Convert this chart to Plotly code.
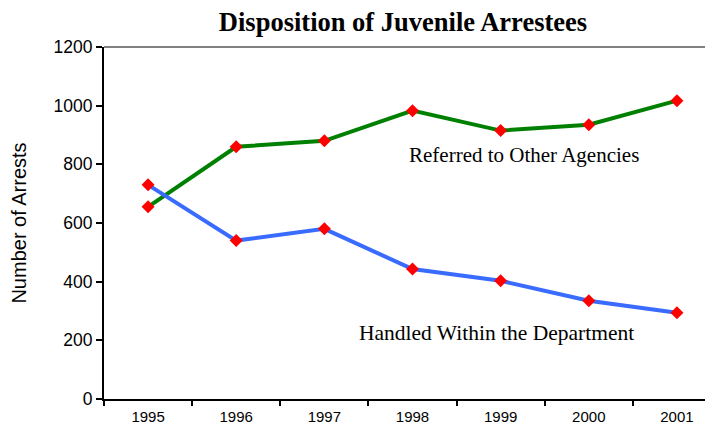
import plotly.graph_objects as go

years = ["1995", "1996", "1997", "1998", "1999", "2000", "2001"]
referred = [655, 860, 880, 983, 915, 935, 1017]
handled = [730, 540, 580, 443, 403, 335, 294]
y_ticks = [0, 200, 400, 600, 800, 1000, 1200]

fig = go.Figure()
fig.add_trace(go.Scatter(x=years, y=referred, mode="lines+markers",
                         line=dict(color="#008000", width=4),
                         marker=dict(symbol="diamond", color="#FF0000", size=10),
                         name="Referred to Other Agencies", showlegend=False))
fig.add_trace(go.Scatter(x=years, y=handled, mode="lines+markers",
                         line=dict(color="#3A6BFF", width=4),
                         marker=dict(symbol="diamond", color="#FF0000", size=10),
                         name="Handled Within the Department", showlegend=False))

fig.add_annotation(x=4.27, y=832, text="Referred to Other Agencies", showarrow=False,
                   font=dict(family="Liberation Serif", size=21, color="#000000"))
fig.add_annotation(x=3.95, y=225, text="Handled Within the Department", showarrow=False,
                   font=dict(family="Liberation Serif", size=21.5, color="#000000"))

fig.add_shape(type="line", xref="paper", yref="paper", x0=0, x1=1, y0=1, y1=1,
              line=dict(color="#808080", width=2))

fig.update_layout(
    width=713, height=430,
    margin=dict(l=96, r=0, t=39, b=39, autoexpand=False),
    paper_bgcolor="white", plot_bgcolor="white",
    title=dict(text="<b>Disposition of Juvenile Arrestees</b>", x=0.554, xanchor="center",
               y=0.967, yanchor="middle", automargin=False,
               font=dict(family="Liberation Serif", size=26.5, color="#000000")),
    xaxis=dict(type="category", range=[-0.5, 6.5], showgrid=False, zeroline=False,
               automargin=False,
               showline=True, linecolor="#000000", linewidth=2,
               ticks="outside", tickson="boundaries", ticklen=5, tickcolor="#000000", tickwidth=2,
               ticklabelstandoff=3,
               tickfont=dict(family="Liberation Sans", size=15, color="#000000")),
    yaxis=dict(range=[0, 1200], tickvals=y_ticks, showgrid=False, zeroline=False,
               automargin=False,
               showline=True, linecolor="#000000", linewidth=2,
               ticks="outside", ticklen=6, tickcolor="#000000", tickwidth=2,
               tickfont=dict(family="Liberation Sans", size=17.5, color="#000000"),
               title=dict(text="Number of Arrests", standoff=22,
                          font=dict(family="Liberation Sans", size=20, color="#000000"))),
)

fig.write_html("out.html")
